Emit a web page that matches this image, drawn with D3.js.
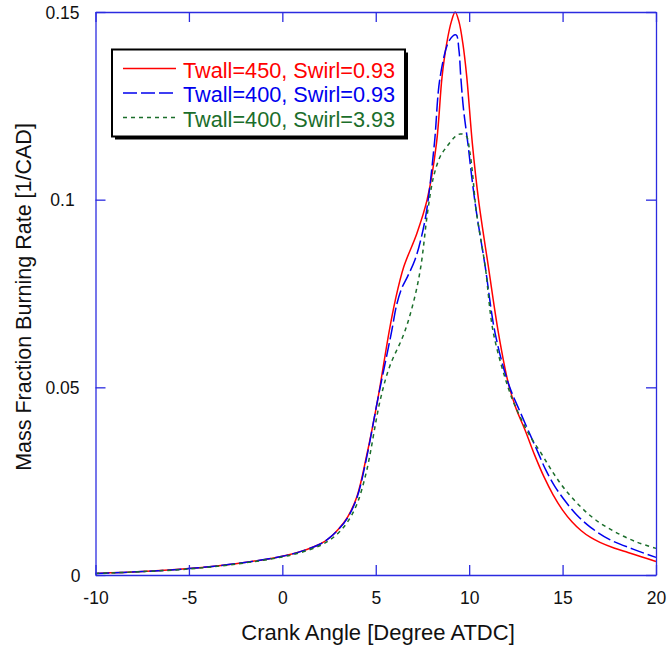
<!DOCTYPE html>
<html>
<head>
<meta charset="utf-8">
<script src="https://cdn.jsdelivr.net/npm/d3@7/dist/d3.min.js"></script>
<style>
  body { margin: 0; background: #fff; }
  text { font-family: "Liberation Sans", Arial, sans-serif; }
</style>
</head>
<body>
<svg id="chart" width="669" height="647"></svg>
<script>
// crank angle [deg ATDC] vs burning rate [1/CAD]
var redX = [-10, -7.5, -5, -2.5, 0, 1, 2, 2.5, 3, 3.5, 4, 4.5, 5.1, 5.7, 6.05, 6.5, 7.2, 7.75, 8.25, 8.55, 8.8, 9.05, 9.25, 9.45, 9.66, 9.87, 10.17, 10.5, 11.03, 11.57, 12.1, 12.5, 13, 13.5, 14, 14.5, 15, 15.5, 16, 16.5, 17, 17.75, 18.5, 19.25, 20];
var redY = [0.0004, 0.0009, 0.0017, 0.003, 0.005, 0.0063, 0.0082, 0.0098, 0.0122, 0.0155, 0.021, 0.0315, 0.0466, 0.0644, 0.0733, 0.0821, 0.091, 0.1, 0.115, 0.1328, 0.1417, 0.1475, 0.15, 0.1475, 0.1417, 0.1328, 0.115, 0.1, 0.0821, 0.0644, 0.051, 0.0445, 0.0385, 0.032, 0.0262, 0.0213, 0.0173, 0.0142, 0.0118, 0.01, 0.0087, 0.0072, 0.006, 0.0048, 0.0036];

var blueX = [-10, -7.5, -5, -2.5, 0, 1, 2, 2.5, 3, 3.5, 4, 4.5, 5.1, 5.83, 6.13, 6.4, 6.7, 7.1, 7.41, 7.73, 8.14, 8.45, 8.95, 9.3, 9.45, 9.55, 9.7, 9.93, 10.14, 10.37, 10.86, 11.39, 12.1, 12.75, 13.6, 14.1, 14.6, 15.2, 15.76, 16.5, 17.5, 18.77, 20];
var blueY = [0.0004, 0.0009, 0.0017, 0.003, 0.005, 0.0063, 0.0082, 0.0098, 0.0121, 0.0153, 0.0207, 0.031, 0.0466, 0.0644, 0.0722, 0.0765, 0.0795, 0.084, 0.0893, 0.0973, 0.115, 0.1328, 0.1425, 0.1439, 0.14, 0.1328, 0.124, 0.115, 0.106, 0.0973, 0.0821, 0.0644, 0.051, 0.0432, 0.0336, 0.028, 0.0235, 0.0193, 0.016, 0.0127, 0.0095, 0.0069, 0.0047];

var greenX = [-10, -7.5, -5, -2.5, 0, 1, 2, 2.5, 3, 3.5, 4, 4.5, 5.24, 5.74, 6.52, 7.05, 7.41, 7.77, 8.09, 8.45, 8.8, 9.25, 9.52, 9.84, 10.02, 10.14, 10.23, 10.37, 10.86, 11.3, 12.19, 12.6, 13.2, 13.87, 14.5, 15.1, 15.9, 16.74, 17.8, 18.96, 20];
var greenY = [0.0004, 0.0009, 0.0016, 0.0029, 0.0048, 0.006, 0.0078, 0.0092, 0.0112, 0.0142, 0.019, 0.0275, 0.0466, 0.0555, 0.0644, 0.0733, 0.0821, 0.0965, 0.106, 0.1115, 0.1141, 0.1168, 0.1175, 0.117, 0.1132, 0.1088, 0.1044, 0.0973, 0.0821, 0.0644, 0.0484, 0.0435, 0.0375, 0.0323, 0.0272, 0.023, 0.0185, 0.0148, 0.0115, 0.0088, 0.0071];

var seriesNames = ["Twall=450, Swirl=0.93", "Twall=400, Swirl=0.93", "Twall=400, Swirl=3.93"];
var xTicks = [-10, -5, 0, 5, 10, 15, 20];
var yTicks = [0, 0.05, 0.1, 0.15];

var colors = ["#ff0000", "#0000ee", "#1b6e2b"];
var dashes = [null, "14,4", "4,4"];

var series = [
  {name: seriesNames[0], x: redX, y: redY},
  {name: seriesNames[1], x: blueX, y: blueY},
  {name: seriesNames[2], x: greenX, y: greenY}
];

var margin = {top: 12, right: 13, bottom: 72, left: 95.5};
var W = 669, H = 647;
var width = W - margin.left - margin.right;
var height = H - margin.top - margin.bottom;

var svg = d3.select("#chart");
var g = svg.append("g").attr("transform", "translate(" + margin.left + "," + margin.top + ")");

var xScale = d3.scaleLinear().domain([-10, 20]).range([0, width]);
var yScale = d3.scaleLinear().domain([0, 0.15]).range([height, 0]);

var axisColor = "#2b2be0";

// curves
var line = d3.line()
  .x(function(d) { return xScale(d[0]); })
  .y(function(d) { return yScale(d[1]); })
  .curve(d3.curveCatmullRom.alpha(0.5));

series.forEach(function(s, i) {
  var pts = s.x.map(function(v, j) { return [v, s.y[j]]; });
  g.append("path")
    .datum(pts)
    .attr("fill", "none")
    .attr("stroke", colors[i])
    .attr("stroke-width", 1.5)
    .attr("stroke-dasharray", dashes[i])
    .attr("d", line);
});

// axes: inward ticks on all four sides
function styleAxis(sel) {
  sel.select(".domain").attr("stroke", axisColor).attr("stroke-width", 1.3);
  sel.selectAll(".tick line").attr("stroke", axisColor).attr("stroke-width", 1.3);
}

var xb = g.append("g").attr("transform", "translate(0," + height + ")")
  .call(d3.axisBottom(xScale).tickValues(xTicks).tickSizeInner(-10).tickSizeOuter(0).tickPadding(17)
    .tickFormat(function(d) { return String(d); }));
styleAxis(xb);
xb.selectAll("text").attr("font-size", 17.5).attr("fill", "#111").attr("font-family", "Liberation Sans, Arial, sans-serif");

var xt = g.append("g")
  .call(d3.axisTop(xScale).tickValues(xTicks).tickSizeInner(-10).tickSizeOuter(0).tickFormat(""));
styleAxis(xt);

var yl = g.append("g")
  .call(d3.axisLeft(yScale).tickValues(yTicks).tickSizeInner(-10).tickSizeOuter(0).tickPadding(0)
    .tickFormat(function(d) { return String(d); }));
styleAxis(yl);
yl.selectAll("text")
  .attr("font-size", 17.5).attr("fill", "#111").attr("font-family", "Liberation Sans, Arial, sans-serif")
  .attr("text-anchor", function(d) { return d === 0 ? "end" : "middle"; })
  .attr("x", function(d) { return d === 0 ? -15 : -33; })
  .attr("dy", "0.35em");

var yr = g.append("g").attr("transform", "translate(" + width + ",0)")
  .call(d3.axisRight(yScale).tickValues(yTicks).tickSizeInner(-10).tickSizeOuter(0).tickFormat(""));
styleAxis(yr);

// axis titles
svg.append("text")
  .attr("x", 378)
  .attr("y", 640)
  .attr("text-anchor", "middle")
  .attr("font-size", 22)
  .attr("fill", "#111")
  .text("Crank Angle [Degree ATDC]");

svg.append("text")
  .attr("transform", "translate(31," + 297 + ") rotate(-90)")
  .attr("text-anchor", "middle")
  .attr("font-size", 21.5)
  .attr("fill", "#111")
  .text("Mass Fraction Burning Rate [1/CAD]");

// legend box with shadow
var lg = svg.append("g").attr("transform", "translate(112,49.5)");
lg.append("rect").attr("x", 3).attr("y", 3).attr("width", 293).attr("height", 87).attr("fill", "#000");
lg.append("rect").attr("width", 293).attr("height", 87).attr("fill", "#fff")
  .attr("stroke", "#000").attr("stroke-width", 2);

series.forEach(function(s, i) {
  var yy = 19 + i * 24.5;
  lg.append("line")
    .attr("x1", 11).attr("x2", 64).attr("y1", yy).attr("y2", yy)
    .attr("stroke", colors[i]).attr("stroke-width", 1.3)
    .attr("stroke-dasharray", dashes[i]);
  lg.append("text")
    .attr("x", 71).attr("y", yy + 9)
    .attr("font-size", 21.7)
    .attr("fill", colors[i])
    .text(s.name);
});
</script>
</body>
</html>
